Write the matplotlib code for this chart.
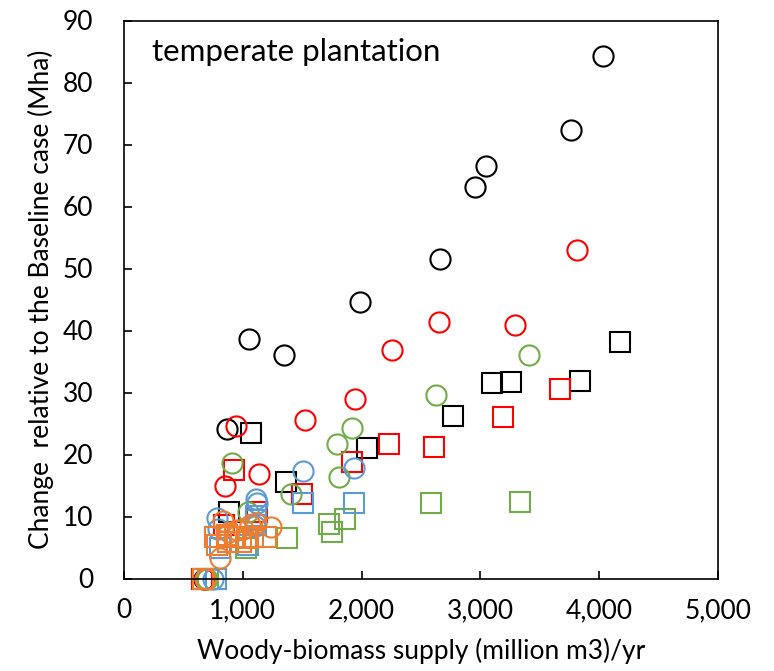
import matplotlib.pyplot as plt
from matplotlib.ticker import FuncFormatter, MultipleLocator

# woody-biomass supply (million m3/yr) vs change in area (Mha)
black_circle_x = [4036, 3762, 3050, 2958, 2661, 1983, 1053, 1345, 871, 675]
black_circle_y = [84.2, 72.3, 66.5, 63.1, 51.6, 44.6, 38.7, 36.0, 24.1, 0]
black_square_x = [4171, 3838, 3255, 3095, 2767, 1067, 2045, 1367, 888, 668]
black_square_y = [38.2, 31.8, 31.7, 31.6, 26.2, 23.4, 21.1, 15.6, 10.8, 0]

red_circle_x = [3815, 2653, 3291, 2255, 1947, 1524, 939, 1140, 849, 680]
red_circle_y = [53.0, 41.3, 40.9, 36.9, 29.0, 25.5, 24.6, 16.8, 15.0, 0]
red_square_x = [3672, 3193, 2233, 2613, 1916, 924, 1500, 1120, 840, 657]
red_square_y = [30.6, 26.1, 21.7, 21.2, 18.8, 17.5, 13.6, 10.8, 8.6, 0]

green_circle_x = [3412, 2628, 1918, 1790, 913, 1812, 1409, 1045, 698]
green_circle_y = [36.0, 29.6, 24.2, 21.7, 18.7, 16.4, 13.6, 10.7, 0]
green_square_x = [3336, 2588, 1857, 1723, 1753, 1370, 1031, 705]
green_square_y = [12.3, 12.2, 9.6, 8.8, 7.5, 6.6, 4.9, 0]

blue_circle_x = [1939, 1507, 1114, 1123, 779, 790, 1100, 750]
blue_circle_y = [17.8, 17.4, 12.9, 12.1, 9.8, 8.0, 8.5, 0]
blue_square_x = [1939, 1510, 1115, 1115, 1115, 807, 1045, 773]
blue_square_y = [12.2, 12.1, 10.1, 9.4, 8.6, 4.9, 5.4, 0]

orange_circle_x = [1235, 1115, 1059, 834, 807, 950, 1000, 880, 680]
orange_circle_y = [8.3, 8.9, 8.6, 9.2, 3.3, 7.8, 8.0, 7.5, 0]
orange_square_x = [1199, 765, 779, 863, 933, 989, 1045, 1084, 877, 667]
orange_square_y = [6.7, 6.7, 5.4, 7.0, 6.7, 5.9, 6.5, 6.7, 5.9, 0]

series = [
    (black_circle_x, black_circle_y, 'o', 'black'),
    (black_square_x, black_square_y, 's', 'black'),
    (red_circle_x, red_circle_y, 'o', '#FF0000'),
    (red_square_x, red_square_y, 's', '#FF0000'),
    (green_circle_x, green_circle_y, 'o', '#70AD47'),
    (green_square_x, green_square_y, 's', '#70AD47'),
    (blue_circle_x, blue_circle_y, 'o', '#5B9BD5'),
    (blue_square_x, blue_square_y, 's', '#5B9BD5'),
    (orange_circle_x, orange_circle_y, 'o', '#ED7D31'),
    (orange_square_x, orange_square_y, 's', '#ED7D31'),
]

plt.rcParams['font.family'] = ['Lato', 'DejaVu Sans']

fig = plt.figure(figsize=(7.74, 6.71), dpi=100)
ax = fig.add_axes([124 / 774, 1 - 578.5 / 671, 594 / 774, 558 / 671])

for xs, ys, m, c in series:
    ax.plot(xs, ys, linestyle='none', marker=m, markersize=14.5,
            markerfacecolor='none', markeredgecolor=c, markeredgewidth=1.5,
            clip_on=False)

ax.set_xlim(0, 5000)
ax.set_ylim(0, 90)
ax.xaxis.set_major_locator(MultipleLocator(1000))
ax.yaxis.set_major_locator(MultipleLocator(10))
ax.xaxis.set_major_formatter(FuncFormatter(lambda v, p: f'{int(v):,}'))
ax.tick_params(direction='in', length=6, width=1.2, labelsize=19)
ax.tick_params(axis='x', pad=14)
ax.tick_params(axis='y', pad=22)
for s in ax.spines.values():
    s.set_linewidth(1.2)

ax.set_xlabel('Woody-biomass supply (million m3)/yr', fontsize=19)
ax.set_ylabel('Change  relative to the Baseline case (Mha)', fontsize=19)
ax.xaxis.set_label_coords(0.5, -0.107)
ax.yaxis.set_label_coords(-0.118, 0.5)

ax.text(0.047, 0.944, 'temperate plantation', transform=ax.transAxes,
        fontsize=22.5, va='center', ha='left')

fig.savefig('out.png', dpi=100)
